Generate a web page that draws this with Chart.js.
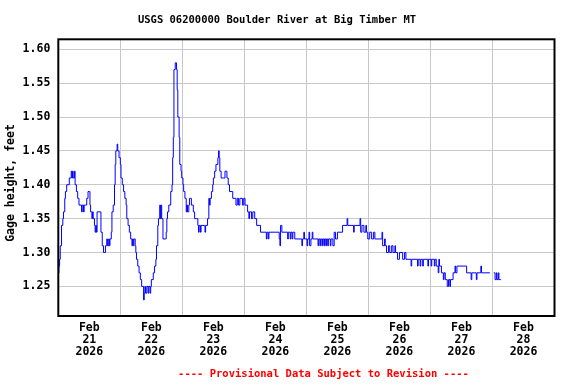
<!DOCTYPE html>
<html>
<head>
<meta charset="utf-8">
<script src="https://cdn.jsdelivr.net/npm/chart.js@4/dist/chart.umd.min.js"></script>
<style>
  html, body { margin: 0; padding: 0; background: #fff; }
  #wrap { width: 576px; height: 384px; position: relative; }
</style>
</head>
<body>
<div id="wrap"><canvas id="grafico"></canvas></div>
<script>
// testi del grafico
const TITOLO = "USGS 06200000 Boulder River at Big Timber MT";
const ASSE_Y = "Gage height, feet";
const NOTA = "---- Provisional Data Subject to Revision ----";

// etichette asse x (un giorno ogni 24 ore, a partire da Feb 21 00:00)
const MESE = "Feb";
const ANNO = "2026";
const GIORNI = ["21", "22", "23", "24", "25", "26", "27", "28"];
const Y_TICKS = [1.25, 1.30, 1.35, 1.40, 1.45, 1.50, 1.55, 1.60];

// ore dall'inizio (Feb 21 00:00) e altezza idrometrica in piedi
const ORE = [
  0, 0.25, 0.5, 0.75, 1.25, 1.75, 2, 2.5, 2.75, 3.25, 4.25, 5, 5.25, 5.5, 5.75, 6.25, 6.5, 7, 7.5, 8,
  9, 9.25, 9.75, 10, 10.5, 11, 11.5, 12, 12.25, 12.5, 13, 13.25, 13.5, 14, 14.25, 14.5, 14.75, 15, 16.25, 16.5,
  17, 17.5, 18, 18.25, 18.75, 19, 19.5, 19.75, 20, 20.5, 20.75, 21.25, 21.75, 22, 22.25, 22.75, 23, 23.5, 24, 24.25,
  24.75, 25.25, 25.75, 26.25, 26.5, 27, 27.5, 28, 28.5, 28.75, 29, 29.25, 29.75, 30, 30.25, 30.75, 31.25, 31.75, 32.25, 32.75,
  33, 33.25, 33.5, 33.75, 34.25, 34.75, 35, 35.5, 35.75, 36, 36.75, 37.25, 37.75, 38, 38.5, 38.75, 39.25, 39.5, 39.75, 40,
  40.5, 41.5, 41.75, 42, 42.25, 42.75, 43.5, 44, 44.25, 44.5, 44.75, 45.25, 45.75, 46, 46.25, 46.75, 47, 47.5, 47.75, 48.25,
  48.5, 49, 49.5, 49.75, 50, 50.5, 50.75, 51.25, 51.5, 52.25, 52.75, 53.5, 54, 54.25, 54.5, 55, 55.25, 56.5, 56.75, 57,
  57.75, 58.25, 58.5, 58.75, 59.25, 59.75, 60, 60.5, 61, 61.75, 62, 62.25, 62.5, 63, 64, 64.5, 65, 65.25, 65.75, 66.25,
  67.25, 67.5, 68.5, 68.75, 69.25, 69.75, 70.25, 71.25, 71.75, 72.25, 73, 73.25, 73.75, 74, 74.75, 75.25, 76, 76.75, 78.25, 80.5,
  80.75, 81.25, 81.5, 85.5, 85.75, 86, 86.5, 88.75, 89, 89.75, 90, 90.5, 90.75, 91.5, 94.25, 94.5, 95, 95.25, 96.25, 96.5,
  97, 97.25, 97.75, 98.25, 98.5, 100.5, 100.75, 101.25, 101.5, 102, 102.25, 102.75, 103, 103.5, 103.75, 104.25, 104.5, 105.25, 105.5, 106.25,
  106.75, 107.25, 108, 110, 111.75, 112, 114.25, 114.5, 116.75, 117, 117.5, 118.25, 119, 119.25, 119.75, 120.5, 121.25, 122, 122.5, 125.25,
  125.5, 126.25, 126.5, 127, 127.75, 128.25, 129, 129.5, 130.25, 130.5, 131.25, 132, 133.25, 134, 134.5, 136.5, 136.75, 139, 139.25, 140,
  140.25, 141, 141.25, 143, 143.25, 144.25, 144.5, 145.5, 145.75, 146.25, 147, 147.25, 147.5, 148.25, 149, 149.25, 149.75, 150.5, 151, 151.5,
  151.75, 152.75, 153.5, 153.75, 154.25, 158, 159.75, 160, 161.75, 162, 163.5, 163.75, 167, 167.25, 168.5, 169, 169.5, 169.75, 170.25, 170.5,
  171.25
];
const ALTEZZA = [
  1.27, 1.28, 1.29, 1.31, 1.34, 1.35, 1.36, 1.38, 1.39, 1.40, 1.41, 1.42, 1.41, 1.42, 1.41, 1.42, 1.40, 1.39, 1.38, 1.37,
  1.36, 1.37, 1.36, 1.37, 1.37, 1.38, 1.39, 1.39, 1.37, 1.36, 1.35, 1.36, 1.35, 1.34, 1.33, 1.34, 1.33, 1.36, 1.36, 1.33,
  1.31, 1.30, 1.30, 1.31, 1.32, 1.31, 1.32, 1.31, 1.32, 1.33, 1.36, 1.37, 1.40, 1.43, 1.45, 1.46, 1.45, 1.44, 1.43, 1.41,
  1.40, 1.39, 1.38, 1.37, 1.35, 1.34, 1.33, 1.32, 1.31, 1.32, 1.31, 1.32, 1.31, 1.30, 1.29, 1.28, 1.27, 1.26, 1.25, 1.25,
  1.23, 1.24, 1.25, 1.24, 1.25, 1.24, 1.25, 1.24, 1.25, 1.26, 1.27, 1.28, 1.29, 1.31, 1.34, 1.35, 1.37, 1.35, 1.37, 1.35,
  1.32, 1.32, 1.33, 1.35, 1.36, 1.37, 1.39, 1.40, 1.44, 1.47, 1.57, 1.58, 1.57, 1.54, 1.50, 1.47, 1.43, 1.42, 1.41, 1.40,
  1.39, 1.38, 1.36, 1.37, 1.36, 1.37, 1.38, 1.38, 1.37, 1.36, 1.35, 1.35, 1.34, 1.33, 1.34, 1.33, 1.34, 1.34, 1.33, 1.34,
  1.35, 1.38, 1.37, 1.38, 1.39, 1.40, 1.41, 1.42, 1.43, 1.44, 1.45, 1.44, 1.42, 1.41, 1.41, 1.42, 1.42, 1.41, 1.40, 1.39,
  1.39, 1.38, 1.38, 1.37, 1.38, 1.37, 1.38, 1.37, 1.38, 1.37, 1.37, 1.36, 1.35, 1.36, 1.35, 1.36, 1.35, 1.34, 1.33, 1.32,
  1.33, 1.32, 1.33, 1.32, 1.31, 1.34, 1.33, 1.32, 1.33, 1.32, 1.33, 1.32, 1.33, 1.32, 1.31, 1.32, 1.33, 1.32, 1.31, 1.32,
  1.33, 1.31, 1.32, 1.33, 1.32, 1.31, 1.32, 1.31, 1.32, 1.31, 1.32, 1.31, 1.32, 1.31, 1.32, 1.31, 1.32, 1.31, 1.32, 1.31,
  1.33, 1.32, 1.33, 1.34, 1.35, 1.34, 1.33, 1.34, 1.35, 1.33, 1.34, 1.33, 1.34, 1.33, 1.32, 1.33, 1.32, 1.33, 1.32, 1.33,
  1.31, 1.32, 1.31, 1.30, 1.31, 1.30, 1.31, 1.30, 1.31, 1.30, 1.29, 1.30, 1.29, 1.30, 1.29, 1.28, 1.29, 1.28, 1.29, 1.28,
  1.29, 1.28, 1.29, 1.28, 1.29, 1.28, 1.29, 1.28, 1.29, 1.28, 1.27, 1.29, 1.28, 1.27, 1.26, 1.27, 1.26, 1.25, 1.26, 1.25,
  1.26, 1.27, 1.28, 1.27, 1.28, 1.27, 1.26, 1.27, 1.26, 1.27, 1.28, 1.27, 1.27, null, 1.27, 1.26, 1.27, 1.26, 1.27, 1.26,
  1.26
];

const FONT_ASSI = { family: "'DejaVu Sans Mono', 'Liberation Mono', monospace", size: 11.5, weight: "bold", lineHeight: "12px" };
const FONT_TESTO = "bold 10.5px 'DejaVu Sans Mono', 'Liberation Mono', monospace";

// cornice nera, titolo, nota in rosso e titolo asse y
const cornice = {
  id: "cornice",
  afterDraw(chart) {
    const ctx = chart.ctx;
    const a = chart.chartArea;
    ctx.save();
    ctx.strokeStyle = "#000000";
    ctx.lineWidth = 2;
    ctx.strokeRect(a.left, a.top, a.right - a.left, a.bottom - a.top);
    ctx.textAlign = "center";
    ctx.textBaseline = "middle";
    ctx.font = FONT_TESTO;
    ctx.fillStyle = "#000000";
    ctx.fillText(TITOLO, 277, 20.5);
    ctx.fillStyle = "#ff0000";
    ctx.fillText(NOTA, 323.5, 374.5);
    ctx.font = "bold 11.5px 'DejaVu Sans Mono', 'Liberation Mono', monospace";
    ctx.fillStyle = "#000000";
    ctx.translate(11.5, 183);
    ctx.rotate(-Math.PI / 2);
    ctx.fillText(ASSE_Y, 0, 0);
    ctx.restore();
  }
};

const punti = ORE.map((h, i) => ({ x: h, y: ALTEZZA[i] }));

new Chart("grafico", {
  type: "line",
  data: {
    datasets: [{
      data: punti,
      borderColor: "#0000ff",
      borderWidth: 1,
      pointRadius: 0,
      stepped: true,
      spanGaps: false,
      fill: false
    }]
  },
  options: {
    responsive: true,
    maintainAspectRatio: false,
    animation: false,
    layout: { padding: { top: 39.3, right: 21.5, left: 0, bottom: 0 } },
    plugins: {
      legend: { display: false },
      tooltip: { enabled: false },
      title: { display: false }
    },
    scales: {
      x: {
        type: "linear",
        min: 0,
        max: 192,
        afterFit: (s) => { s.height = 68; },
        afterBuildTicks: (s) => {
          const t = [];
          for (let g = 0; g <= GIORNI.length; g++) {
            t.push({ value: g * 24 });
            if (g < GIORNI.length) t.push({ value: g * 24 + 12 });
          }
          s.ticks = t;
        },
        border: { display: false },
        grid: {
          drawTicks: false,
          lineWidth: 1,
          color: (c) => (c.tick && c.tick.value % 24 === 0) ? "#c8c8c8" : "rgba(0,0,0,0)"
        },
        ticks: {
          autoSkip: false,
          maxRotation: 0,
          padding: 6,
          color: "#000000",
          font: FONT_ASSI,
          callback: (v) => {
            if (v % 24 !== 12) return "";
            return [MESE, GIORNI[Math.floor(v / 24)], ANNO];
          }
        }
      },
      y: {
        min: 1.2063,
        max: 1.6147,
        afterFit: (s) => { s.width = 58.3; },
        afterBuildTicks: (s) => { s.ticks = Y_TICKS.map(v => ({ value: v })); },
        border: { display: false },
        grid: { drawTicks: false, color: "#c8c8c8", lineWidth: 1 },
        ticks: {
          padding: 8,
          color: "#000000",
          font: FONT_ASSI,
          callback: (v) => Number(v).toFixed(2)
        }
      }
    }
  },
  plugins: [cornice]
});
</script>
</body>
</html>
